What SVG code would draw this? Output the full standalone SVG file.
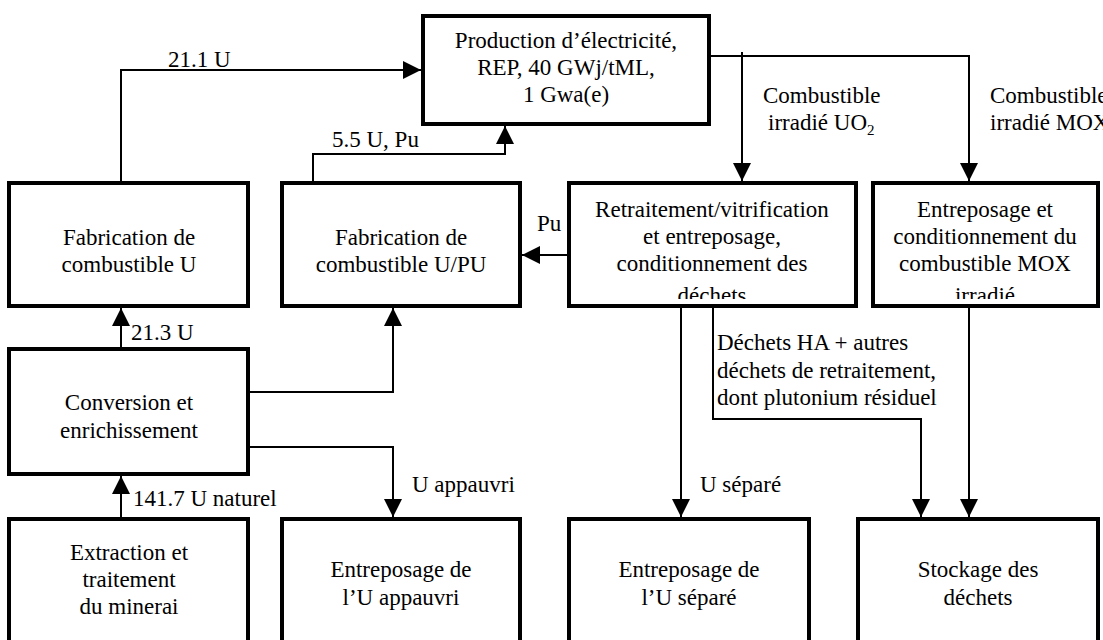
<svg xmlns="http://www.w3.org/2000/svg" width="1103" height="640" viewBox="0 0 1103 640">
<style>
.box{fill:#fff;stroke:#000;stroke-width:4}
.t{font-family:"Liberation Serif","Times New Roman",serif;font-size:23px;fill:#000}
.c{text-anchor:middle}
.ln{fill:none;stroke:#000;stroke-width:2;marker-end:url(#ah)}
</style>
<defs>
<marker id="ah" markerUnits="userSpaceOnUse" markerWidth="18" markerHeight="18" refX="18" refY="9" orient="auto">
<path d="M0,0 L18,9 L0,18 z" fill="#000"/>
</marker>
<clipPath id="clipR"><rect x="569" y="183" width="287" height="116"/></clipPath>
<clipPath id="clipM"><rect x="873" y="183" width="225" height="116"/></clipPath>
</defs>
<rect width="1103" height="640" fill="#fff"/>
<g id="connectors">
<path class="ln" d="M121,181 V70 H421"/>
<path class="ln" d="M313,181 V154 H505 V126"/>
<path class="ln" d="M742,52 V181"/>
<path class="ln" d="M711,56 H969 V181"/>
<path class="ln" d="M567,255 H522"/>
<path class="ln" d="M121,347 V308"/>
<path class="ln" d="M250,392 H393 V308"/>
<path class="ln" d="M250,447 H393 V517"/>
<path class="ln" d="M121,517 V476"/>
<path class="ln" d="M681,308 V517"/>
<path class="ln" d="M713,308 V419 H921 V517"/>
<path class="ln" d="M969,308 V517"/>
<text class="t" x="168" y="67">21.1 U</text>
<text class="t" x="332" y="147">5.5 U, Pu</text>
<text class="t" x="763" y="103">Combustible</text>
<text class="t" x="768" y="130">irradié UO<tspan font-size="15" dy="5">2</tspan></text>
<text class="t" x="990" y="103">Combustible</text>
<text class="t" x="990" y="130">irradié MOX</text>
<text class="t" x="537" y="231">Pu</text>
<text class="t" x="131" y="340">21.3 U</text>
<text class="t" x="133" y="506">141.7 U naturel</text>
<text class="t" x="412" y="492">U appauvri</text>
<text class="t" x="700" y="492">U séparé</text>
<text class="t" x="717" y="350">Déchets HA + autres</text>
<text class="t" x="717" y="378">déchets de retraitement,</text>
<text class="t" x="717" y="405">dont plutonium résiduel</text>
</g>
<g id="production">
<rect class="box" x="423" y="16" width="286" height="108"/>
<text class="t c" x="566" y="48">Production d’électricité,</text>
<text class="t c" x="566" y="75">REP, 40 GWj/tML,</text>
<text class="t c" x="566" y="102">1 Gwa(e)</text>
</g>
<g id="fab-u">
<rect class="box" x="9" y="183" width="239" height="123"/>
<text class="t c" x="129" y="245">Fabrication de</text>
<text class="t c" x="129" y="272">combustible U</text>
</g>
<g id="fab-upu">
<rect class="box" x="282" y="183" width="238" height="123"/>
<text class="t c" x="401" y="245">Fabrication de</text>
<text class="t c" x="401" y="272">combustible U/PU</text>
</g>
<g id="retraitement">
<rect class="box" x="569" y="183" width="287" height="123"/>
<g clip-path="url(#clipR)">
<text class="t c" x="712" y="217">Retraitement/vitrification</text>
<text class="t c" x="712" y="244">et entreposage,</text>
<text class="t c" x="712" y="271">conditionnement des</text>
<text class="t c" x="712" y="303">déchets</text>
</g>
</g>
<g id="entreposage-mox">
<rect class="box" x="873" y="183" width="225" height="123"/>
<g clip-path="url(#clipM)">
<text class="t c" x="985" y="217">Entreposage et</text>
<text class="t c" x="985" y="244">conditionnement du</text>
<text class="t c" x="985" y="271">combustible MOX</text>
<text class="t c" x="985" y="303">irradié</text>
</g>
</g>
<g id="conversion">
<rect class="box" x="9" y="349" width="239" height="125"/>
<text class="t c" x="129" y="410">Conversion et</text>
<text class="t c" x="129" y="438">enrichissement</text>
</g>
<g id="extraction">
<rect class="box" x="9" y="519" width="239" height="140"/>
<text class="t c" x="129" y="560">Extraction et</text>
<text class="t c" x="129" y="587">traitement</text>
<text class="t c" x="129" y="614">du minerai</text>
</g>
<g id="entreposage-u-appauvri">
<rect class="box" x="282" y="519" width="238" height="140"/>
<text class="t c" x="401" y="577">Entreposage de</text>
<text class="t c" x="401" y="605">l’U appauvri</text>
</g>
<g id="entreposage-u-separe">
<rect class="box" x="569" y="519" width="240" height="140"/>
<text class="t c" x="689" y="577">Entreposage de</text>
<text class="t c" x="689" y="605">l’U séparé</text>
</g>
<g id="stockage">
<rect class="box" x="858" y="519" width="240" height="140"/>
<text class="t c" x="978" y="577">Stockage des</text>
<text class="t c" x="978" y="605">déchets</text>
</g>
</svg>
